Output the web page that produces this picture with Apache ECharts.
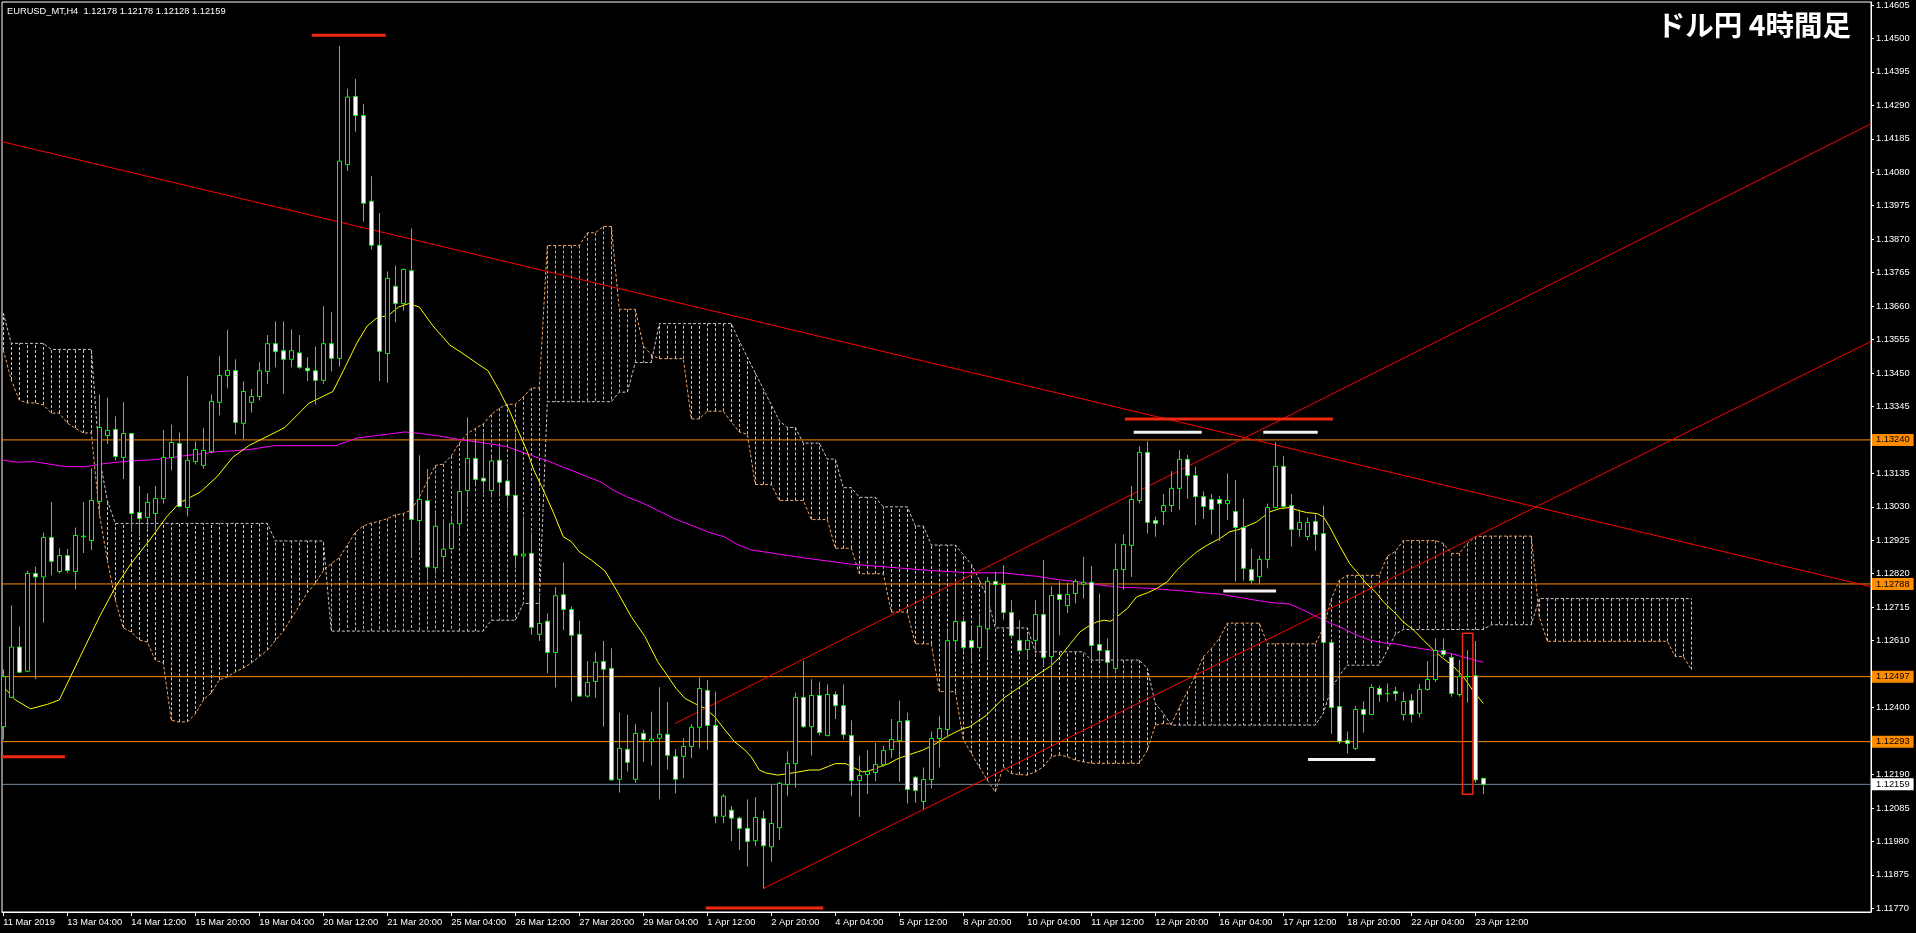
<!DOCTYPE html>
<html><head><meta charset="utf-8">
<script src="https://cdn.jsdelivr.net/npm/echarts@6/dist/echarts.min.js"></script>
<style>html,body{margin:0;padding:0;background:#000;}#c{width:1916px;height:933px;}</style>
</head><body><div id="c"></div>
<script>
// ---------- DATA ----------
const symbolTitle = 'EURUSD_MT,H4';
const chartTitle = 'ドル円 4時間足';
const xTickIdx = [0,8,16,24,32,40,48,56,64,72,80,88,96,104,112,120,128,136,144,152,160,168,176,184];
const xTickLabels = ['11 Mar 2019','13 Mar 04:00','14 Mar 12:00','15 Mar 20:00','19 Mar 04:00','20 Mar 12:00','21 Mar 20:00','25 Mar 04:00','26 Mar 12:00','27 Mar 20:00','29 Mar 04:00','1 Apr 12:00','2 Apr 20:00','4 Apr 04:00','5 Apr 12:00','8 Apr 20:00','10 Apr 04:00','11 Apr 12:00','12 Apr 20:00','16 Apr 04:00','17 Apr 12:00','18 Apr 20:00','22 Apr 04:00','23 Apr 12:00'];
const yTicks = [1.11770,1.11875,1.11980,1.12085,1.12190,1.12295,1.12400,1.12505,1.12610,1.12715,1.12820,1.12925,1.13030,1.13135,1.13240,1.13345,1.13450,1.13555,1.13660,1.13765,1.13870,1.13975,1.14080,1.14185,1.14290,1.14395,1.14500,1.14605];

const open = [1.12340,1.12432,1.12590,1.12514,1.12821,1.12810,1.12934,1.12827,1.12877,1.12827,1.12936,1.12924,1.13047,1.13254,1.13273,1.13185,1.13260,1.13012,1.12997,1.13009,1.13056,1.13185,1.13229,1.13028,1.13172,1.13160,1.13204,1.13358,1.13442,1.13458,1.13292,1.13358,1.13376,1.13455,1.13542,1.13520,1.13493,1.13513,1.13465,1.13457,1.13427,1.13542,1.13496,1.14104,1.14318,1.14258,1.13989,1.13851,1.13511,1.13722,1.13668,1.13771,1.12987,1.13049,1.12839,1.12874,1.12899,1.12977,1.13081,1.13182,1.13120,1.13081,1.13176,1.13111,1.13066,1.12876,1.12884,1.12630,1.12671,1.12573,1.12754,1.12708,1.12630,1.12436,1.12482,1.12545,1.12523,1.12175,1.12269,1.12175,1.12319,1.12294,1.12304,1.12316,1.12247,1.12247,1.12278,1.12338,1.12454,1.12344,1.12059,1.12078,1.12053,1.12021,1.11982,1.12052,1.11963,1.12023,1.12159,1.12224,1.12432,1.12340,1.12438,1.12312,1.12441,1.12406,1.12312,1.12171,1.12190,1.12196,1.12221,1.12268,1.12296,1.12359,1.12181,1.12105,1.12174,1.12303,1.12331,1.12610,1.12670,1.12610,1.12588,1.12647,1.12796,1.12786,1.12698,1.12611,1.12582,1.12611,1.12692,1.12560,1.12755,1.12720,1.12758,1.12787,1.12793,1.12598,1.12579,1.12523,1.12833,1.12909,1.13050,1.13201,1.12987,1.13015,1.13034,1.13088,1.13179,1.13128,1.13062,1.13053,1.13053,1.13040,1.13015,1.12965,1.12833,1.12811,1.12865,1.13028,1.13157,1.13034,1.12959,1.12937,1.12984,1.12946,1.12604,1.12403,1.12297,1.12272,1.12394,1.12378,1.12460,1.12444,1.12451,1.12378,1.12422,1.12382,1.12457,1.12488,1.12579,1.12557,1.12441,1.12498,1.12500,1.12178];
const high = [1.12520,1.12721,1.12655,1.12829,1.12842,1.12949,1.13045,1.12900,1.12898,1.12965,1.13045,1.13151,1.13382,1.13373,1.13314,1.13359,1.13262,1.13095,1.13073,1.13095,1.13271,1.13288,1.13264,1.13440,1.13235,1.13277,1.13383,1.13503,1.13586,1.13493,1.13424,1.13400,1.13484,1.13569,1.13612,1.13612,1.13587,1.13569,1.13500,1.13533,1.13660,1.13641,1.14477,1.14342,1.14373,1.14294,1.14068,1.13952,1.13769,1.13787,1.13778,1.13904,1.13192,1.13149,1.13012,1.12989,1.13003,1.13144,1.13311,1.13241,1.13263,1.13189,1.13219,1.13167,1.13261,1.13000,1.12950,1.12759,1.12696,1.12778,1.12855,1.12717,1.12673,1.12546,1.12575,1.12609,1.12586,1.12384,1.12377,1.12348,1.12330,1.12387,1.12464,1.12417,1.12270,1.12304,1.12348,1.12494,1.12487,1.12450,1.12128,1.12091,1.12058,1.12112,1.12119,1.12076,1.12157,1.12167,1.12263,1.12447,1.12547,1.12489,1.12481,1.12473,1.12451,1.12473,1.12360,1.12249,1.12266,1.12289,1.12280,1.12364,1.12422,1.12384,1.12185,1.12212,1.12325,1.12374,1.12642,1.12790,1.12686,1.12654,1.12695,1.12810,1.12826,1.12847,1.12737,1.12674,1.12633,1.12737,1.12863,1.12781,1.12797,1.12792,1.12803,1.12873,1.12844,1.12758,1.12617,1.12915,1.12943,1.13095,1.13220,1.13236,1.12999,1.13070,1.13142,1.13208,1.13193,1.13156,1.13079,1.13070,1.13064,1.13135,1.13114,1.13056,1.12899,1.12877,1.13040,1.13233,1.13189,1.13070,1.13022,1.12997,1.13006,1.13034,1.12604,1.12538,1.12325,1.12405,1.12420,1.12473,1.12469,1.12476,1.12465,1.12449,1.12442,1.12474,1.12546,1.12617,1.12617,1.12570,1.12549,1.12580,1.12609,1.12178];
const low = [1.12300,1.12429,1.12508,1.12511,1.12489,1.12666,1.12815,1.12821,1.12823,1.12771,1.12885,1.12894,1.12997,1.13227,1.13176,1.13117,1.12951,1.12938,1.12962,1.12956,1.13040,1.13144,1.13028,1.13000,1.13163,1.13150,1.13198,1.13317,1.13402,1.13257,1.13242,1.13326,1.13364,1.13416,1.13468,1.13385,1.13468,1.13463,1.13425,1.13351,1.13416,1.13455,1.13470,1.14084,1.14207,1.13925,1.13838,1.13425,1.13419,1.13609,1.13646,1.12874,1.12922,1.12800,1.12820,1.12836,1.12895,1.12944,1.13030,1.13101,1.13073,1.13062,1.13072,1.13025,1.12837,1.12777,1.12628,1.12609,1.12508,1.12463,1.12643,1.12419,1.12434,1.12431,1.12431,1.12340,1.12170,1.12133,1.12199,1.12164,1.12230,1.12218,1.12112,1.12206,1.12131,1.12178,1.12241,1.12272,1.12267,1.12037,1.12037,1.11981,1.11953,1.11901,1.11965,1.11832,1.11916,1.11984,1.12123,1.12148,1.12336,1.12249,1.12313,1.12310,1.12364,1.12300,1.12122,1.12057,1.12129,1.12169,1.12214,1.12242,1.12167,1.12099,1.12101,1.12080,1.12146,1.12212,1.12306,1.12578,1.12578,1.12547,1.12575,1.12557,1.12659,1.12674,1.12617,1.12570,1.12549,1.12570,1.12528,1.12287,1.12627,1.12697,1.12727,1.12742,1.12549,1.12549,1.12494,1.12509,1.12769,1.12810,1.13041,1.12946,1.12936,1.12973,1.13014,1.13020,1.13055,1.12973,1.12992,1.12943,1.12923,1.12988,1.12795,1.12798,1.12789,1.12787,1.12837,1.13025,1.13022,1.12905,1.12936,1.12925,1.12892,1.12429,1.12317,1.12285,1.12256,1.12267,1.12321,1.12376,1.12418,1.12418,1.12421,1.12359,1.12353,1.12369,1.12453,1.12481,1.12559,1.12434,1.12434,1.12415,1.12164,1.12128];
const close = [1.12497,1.12590,1.12511,1.12821,1.12810,1.12934,1.12859,1.12877,1.12830,1.12940,1.12938,1.13050,1.13279,1.13270,1.13188,1.13260,1.13009,1.12993,1.13044,1.13056,1.13185,1.13232,1.13031,1.13176,1.13210,1.13207,1.13361,1.13442,1.13458,1.13295,1.13392,1.13376,1.13457,1.13542,1.13517,1.13493,1.13520,1.13468,1.13457,1.13427,1.13542,1.13496,1.14115,1.14316,1.14258,1.13983,1.13851,1.13518,1.13747,1.13668,1.13775,1.12990,1.13053,1.12841,1.12969,1.12897,1.12977,1.13078,1.13182,1.13116,1.13111,1.13174,1.13107,1.13066,1.12878,1.12882,1.12652,1.12664,1.12573,1.12751,1.12708,1.12627,1.12436,1.12479,1.12542,1.12520,1.12173,1.12272,1.12228,1.12319,1.12300,1.12301,1.12316,1.12250,1.12175,1.12278,1.12338,1.12460,1.12344,1.12059,1.12122,1.12053,1.12021,1.11980,1.12055,1.11966,1.12036,1.12162,1.12224,1.12432,1.12340,1.12438,1.12322,1.12441,1.12406,1.12315,1.12171,1.12187,1.12199,1.12221,1.12265,1.12300,1.12356,1.12143,1.12140,1.12174,1.12303,1.12334,1.12610,1.12670,1.12588,1.12588,1.12655,1.12796,1.12786,1.12698,1.12626,1.12579,1.12611,1.12692,1.12557,1.12752,1.12739,1.12755,1.12796,1.12793,1.12595,1.12579,1.12542,1.12833,1.12912,1.13053,1.13201,1.12981,1.12978,1.13034,1.13088,1.13179,1.13128,1.13062,1.13031,1.13022,1.13040,1.13050,1.12965,1.12837,1.12799,1.12865,1.13028,1.13157,1.13031,1.12959,1.12981,1.12981,1.12943,1.12604,1.12400,1.12293,1.12287,1.12394,1.12378,1.12463,1.12441,1.12444,1.12444,1.12419,1.12378,1.12457,1.12488,1.12579,1.12567,1.12444,1.12498,1.12497,1.12173,1.12159];

// Ichimoku cloud (Senkou Span A / B), one value per bar incl. 26 bars ahead
const spanA = [1.13522,1.13428,1.13365,1.13356,1.13356,1.13350,1.13324,1.13324,1.13293,1.13277,1.13262,1.13262,1.13010,1.12863,1.12737,1.12650,1.12637,1.12612,1.12606,1.12549,1.12540,1.12360,1.12355,1.12355,1.12380,1.12424,1.12446,1.12487,1.12496,1.12512,1.12524,1.12540,1.12560,1.12580,1.12610,1.12640,1.12680,1.12720,1.12760,1.12790,1.12830,1.12852,1.12870,1.12910,1.12950,1.12970,1.12979,1.12985,1.12993,1.13005,1.13009,1.13020,1.13060,1.13110,1.13160,1.13164,1.13190,1.13230,1.13260,1.13276,1.13290,1.13320,1.13339,1.13352,1.13352,1.13375,1.13403,1.13403,1.13850,1.13850,1.13850,1.13850,1.13850,1.13890,1.13890,1.13910,1.13910,1.13650,1.13650,1.13650,1.13536,1.13507,1.13495,1.13495,1.13495,1.13495,1.13306,1.13306,1.13330,1.13330,1.13330,1.13296,1.13265,1.13258,1.13100,1.13100,1.13100,1.13050,1.13050,1.13050,1.13050,1.12990,1.12990,1.12990,1.12900,1.12900,1.12900,1.12820,1.12820,1.12820,1.12820,1.12700,1.12700,1.12700,1.12600,1.12600,1.12600,1.12450,1.12450,1.12450,1.12300,1.12256,1.12214,1.12172,1.12136,1.12214,1.12193,1.12190,1.12188,1.12198,1.12214,1.12246,1.12251,1.12246,1.12235,1.12230,1.12225,1.12225,1.12225,1.12225,1.12225,1.12225,1.12225,1.12266,1.12345,1.12350,1.12348,1.12400,1.12450,1.12500,1.12560,1.12585,1.12617,1.12665,1.12665,1.12665,1.12665,1.12665,1.12600,1.12600,1.12600,1.12600,1.12600,1.12600,1.12600,1.12650,1.12740,1.12800,1.12815,1.12815,1.12815,1.12815,1.12815,1.12875,1.12890,1.12924,1.12924,1.12924,1.12924,1.12924,1.12915,1.12884,1.12884,1.12915,1.12936,1.12938,1.12938,1.12938,1.12938,1.12938,1.12938,1.12938,1.12685,1.12608,1.12608,1.12608,1.12608,1.12608,1.12608,1.12608,1.12608,1.12608,1.12608,1.12608,1.12608,1.12608,1.12608,1.12608,1.12608,1.12560,1.12560,1.12519];
const spanB = [1.13638,1.13543,1.13543,1.13543,1.13543,1.13543,1.13524,1.13524,1.13524,1.13524,1.13524,1.13524,1.13186,1.13051,1.12978,1.12978,1.12978,1.12978,1.12978,1.12978,1.12978,1.12978,1.12978,1.12978,1.12978,1.12978,1.12978,1.12978,1.12978,1.12978,1.12978,1.12978,1.12978,1.12978,1.12923,1.12923,1.12923,1.12923,1.12923,1.12923,1.12923,1.12640,1.12640,1.12640,1.12640,1.12640,1.12640,1.12640,1.12640,1.12640,1.12640,1.12640,1.12640,1.12640,1.12640,1.12640,1.12640,1.12640,1.12640,1.12640,1.12640,1.12674,1.12674,1.12674,1.12674,1.12727,1.12727,1.12727,1.13360,1.13360,1.13360,1.13360,1.13360,1.13360,1.13360,1.13360,1.13360,1.13390,1.13390,1.13483,1.13483,1.13483,1.13605,1.13605,1.13605,1.13605,1.13605,1.13605,1.13605,1.13605,1.13605,1.13605,1.13550,1.13500,1.13450,1.13400,1.13350,1.13300,1.13279,1.13279,1.13230,1.13230,1.13230,1.13180,1.13180,1.13090,1.13090,1.13060,1.13060,1.13060,1.13030,1.13030,1.13030,1.13030,1.12970,1.12970,1.12910,1.12910,1.12910,1.12910,1.12880,1.12850,1.12800,1.12745,1.12650,1.12650,1.12650,1.12650,1.12650,1.12575,1.12575,1.12575,1.12575,1.12575,1.12575,1.12575,1.12549,1.12549,1.12549,1.12549,1.12549,1.12549,1.12549,1.12523,1.12413,1.12382,1.12345,1.12345,1.12345,1.12345,1.12345,1.12345,1.12345,1.12345,1.12345,1.12345,1.12345,1.12345,1.12345,1.12345,1.12345,1.12345,1.12345,1.12345,1.12345,1.12382,1.12460,1.12500,1.12533,1.12533,1.12533,1.12533,1.12533,1.12580,1.12630,1.12645,1.12645,1.12645,1.12645,1.12645,1.12645,1.12645,1.12645,1.12645,1.12645,1.12645,1.12660,1.12660,1.12660,1.12660,1.12660,1.12660,1.12742,1.12742,1.12742,1.12742,1.12742,1.12742,1.12742,1.12742,1.12742,1.12742,1.12742,1.12742,1.12742,1.12742,1.12742,1.12742,1.12742,1.12742,1.12742,1.12742];

// moving averages: [bar, price]
const maYellow = [[0,1.12466],[1.5,1.12424],[3.4,1.12396],[5.5,1.12410],[7,1.12424],[10,1.12580],[12,1.12684],[14,1.12778],[16,1.12853],[18.3,1.12926],[20.4,1.12998],[22,1.13042],[24.6,1.13076],[26.7,1.13124],[28.7,1.13186],[30.8,1.13224],[32.2,1.13241],[35.2,1.13279],[38.2,1.13355],[41.2,1.13392],[42.5,1.13457],[44.2,1.13544],[45.5,1.13598],[46.8,1.13625],[48.1,1.13630],[49.4,1.13657],[50.7,1.13668],[52,1.13657],[53.7,1.13598],[55.8,1.13538],[57.1,1.13517],[59.3,1.13479],[60.6,1.13457],[62.1,1.13390],[63.3,1.13330],[64.5,1.13260],[65.5,1.13203],[66.3,1.13146],[67.5,1.13083],[68.8,1.13010],[70,1.12936],[71,1.12921],[72,1.12889],[73.5,1.12863],[75.2,1.12829],[76.4,1.12779],[78.5,1.12685],[80.2,1.12623],[81.8,1.12544],[83.1,1.12497],[84.1,1.12460],[85.2,1.12429],[86.4,1.12413],[87.7,1.12398],[88.9,1.12372],[90.2,1.12330],[91.4,1.12293],[92.7,1.12267],[93.5,1.12245],[94.5,1.12204],[95.3,1.12195],[96.8,1.12188],[97.6,1.12191],[99,1.12196],[100.7,1.12204],[102,1.12204],[103.2,1.12216],[104,1.12224],[105.3,1.12224],[106.5,1.12209],[107.4,1.12198],[108.2,1.12201],[109.5,1.12214],[110.7,1.12224],[111.6,1.12237],[112.4,1.12245],[113.7,1.12256],[114.9,1.12266],[115.8,1.12277],[116.6,1.12287],[117.9,1.12308],[119.1,1.12324],[120,1.12334],[120.8,1.12340],[122.9,1.12376],[125,1.12429],[127.1,1.12465],[129.2,1.12502],[130.9,1.12530],[131.9,1.12554],[133.4,1.12601],[134.6,1.12638],[135.5,1.12653],[136.7,1.12669],[137.6,1.12674],[138.4,1.12671],[139.2,1.12685],[140.5,1.12711],[141.7,1.12748],[143,1.12760],[144.2,1.12774],[145.5,1.12795],[146.7,1.12831],[148,1.12863],[149.2,1.12889],[150.5,1.12910],[152.1,1.12931],[153.3,1.12952],[154.2,1.12957],[155.4,1.12969],[156.7,1.12983],[157.5,1.12999],[158.3,1.13014],[159.6,1.13025],[160.8,1.13028],[161.7,1.13020],[162.9,1.13012],[164.2,1.13009],[165,1.12999],[165.8,1.12967],[167.1,1.12905],[168.3,1.12852],[169.2,1.12826],[170.4,1.12789],[171.7,1.12758],[172.5,1.12732],[173.8,1.12701],[175,1.12669],[176.3,1.12643],[177.5,1.12612],[178.8,1.12580],[180,1.12554],[181.3,1.12528],[182.5,1.12497],[183.8,1.12450],[185,1.12413]];
const maMagenta = [[-0.16,1.13177],[1.7,1.13170],[3.8,1.13172],[5.8,1.13164],[7.9,1.13156],[10.4,1.13156],[12.1,1.13164],[14.2,1.13170],[16.3,1.13175],[18.3,1.13177],[20.4,1.13182],[22.5,1.13190],[24.6,1.13196],[26.7,1.13203],[28.8,1.13206],[30.8,1.13210],[33.9,1.13222],[41.6,1.13222],[44.2,1.13246],[46.8,1.13254],[50.2,1.13265],[51.9,1.13261],[54.5,1.13252],[57.1,1.13241],[59.7,1.13232],[62.9,1.13219],[65,1.13200],[67.1,1.13182],[68.3,1.13172],[70,1.13154],[71.2,1.13143],[72.9,1.13125],[74.6,1.13109],[76.2,1.13083],[77.9,1.13062],[80,1.13041],[81.7,1.13020],[83.8,1.12994],[85.9,1.12973],[88,1.12952],[90.1,1.12936],[91.7,1.12913],[93.4,1.12895],[100,1.12870],[106,1.12850],[112,1.12838],[116,1.12830],[120.8,1.12823],[125,1.12823],[126.6,1.12818],[129.2,1.12812],[131.7,1.12802],[134.2,1.12795],[135.9,1.12789],[137.6,1.12783],[140,1.12777],[141.7,1.12776],[143.4,1.12774],[145.9,1.12769],[148,1.12765],[150,1.12760],[152.1,1.12756],[153.3,1.12751],[155.8,1.12740],[158.3,1.12730],[160.8,1.12725],[162.5,1.12706],[164.2,1.12685],[165.8,1.12666],[167.5,1.12648],[169.2,1.12627],[170.8,1.12612],[172.5,1.12603],[174.2,1.12599],[175.8,1.12591],[177.5,1.12584],[179.2,1.12578],[180.8,1.12570],[182.5,1.12559],[184.2,1.12547],[185,1.12542]];

const levelPrices = [1.13240, 1.12788, 1.12497, 1.12293];
const bidPrice = 1.12159;
const trendDown = [[-0.16,1.14176],[233.46,1.12779]];
const trendUp1 = [[83.96,1.12350],[233.46,1.14232]];
const trendUp2 = [[95,1.11832],[233.46,1.13549]];
const redMarks = [[[38.55,1.14510],[47.8,1.14510]],[[-0.16,1.12246],[7.7,1.12246]],[[87.8,1.11771],[102.5,1.11771]],[[140.2,1.13306],[166.2,1.13306]]];
const whiteMarks = [[[141.3,1.13264],[149.8,1.13264]],[[157.5,1.13264],[164.3,1.13264]],[[152.5,1.12766],[159.1,1.12766]],[[163.1,1.12237],[171.5,1.12237]]];
const boxBars = [182.4, 183.7];
const boxPrices = [1.12633, 1.12128];

// ---------- CHART ----------
const FONT = '"Liberation Sans", Arial, sans-serif';
const SMALL = 9.3;
const X_MIN = -0.1625, X_MAX = 233.4625;
const chart = echarts.init(document.getElementById('c'), null, {renderer:'canvas', width:1916, height:933});
const last = open.length - 1;
const header = symbolTitle + '  ' + [open[last], high[last], low[last], close[last]].map(v => v.toFixed(5)).join(' ');

function seg(pts, color, width, z, dash) {
  return {type:'line', data: pts, symbol:'none', silent:true, z: z, clip:true,
    lineStyle:{color: color, width: width, type: dash || 'solid'}, emphasis:{disabled:true}};
}
function level(v, color, tagBg) {
  return {type:'line', data:[[X_MIN, v],[X_MAX, v]], symbol:'none', silent:true, z:4, clip:false,
    lineStyle:{color: color, width:1}, emphasis:{disabled:true},
    endLabel:{show:true, distance:1, formatter: () => v.toFixed(5), backgroundColor: tagBg, color:'#000000',
      padding:[2,4,1,4], fontSize:SMALL, fontFamily:FONT}};
}

const cloudData = spanA.map((a, i) => [i, a, spanB[i]]);
const series = [];
series.push({
  type:'custom', z:2, silent:true, clip:true, data: cloudData,
  encode:{x:0, y:[1,2]},
  renderItem: function (params, api) {
    const i = api.value(0), a = api.value(1), b = api.value(2);
    const p1 = api.coord([i, a]), p2 = api.coord([i, b]);
    const x = Math.round(p1[0]) + 0.5;
    return {type:'line', shape:{x1:x, y1:p1[1], x2:x, y2:p2[1]},
      style:{stroke: a >= b ? '#F4A460' : '#D8BFD8', lineWidth:1, lineDash:[3,2]}};
  }
});
series.push(seg(spanA.map((v,i)=>[i,v]), '#F4A460', 1, 3, [3,2]));
series.push(seg(spanB.map((v,i)=>[i,v]), '#D8BFD8', 1, 3, [3,2]));
levelPrices.forEach(v => series.push(level(v, '#FF8C00', '#FF8C00')));
series.push(level(bidPrice, '#778899', '#FFFFFF'));
series.push(seg(maMagenta, '#FF00FF', 1, 5));
series.push(seg(maYellow, '#FFFF00', 1, 5));
series.push(seg(trendDown, '#FF0000', 1, 6));
series.push(seg(trendUp1, '#FF0000', 1, 6));
series.push(seg(trendUp2, '#FF0000', 1, 6));
series.push({
  type:'candlestick', z:10, silent:true, barWidth:4,
  data: open.map((o,i) => [i, o, close[i], low[i], high[i]]),
  itemStyle:{color:'#000000', color0:'#FFFFFF', borderColor:'#00FF00', borderColor0:'#00FF00', borderColorDoji:'#00FF00', borderWidth:1}
});
redMarks.forEach(p => series.push(seg(p, '#F0280F', 3, 12)));
whiteMarks.forEach(p => series.push(seg(p, '#F2F2F2', 3, 12)));
series.push(seg([[boxBars[0],boxPrices[0]],[boxBars[1],boxPrices[0]],[boxBars[1],boxPrices[1]],[boxBars[0],boxPrices[1]],[boxBars[0],boxPrices[0]]], '#F0280F', 1.5, 12));

chart.setOption({
  backgroundColor:'#000000',
  animation:false,
  grid:{left:2, right:45, top:2, bottom:21, show:true, borderColor:'#FFFFFF', borderWidth:1, backgroundColor:'transparent', containLabel:false, outerBoundsMode:'none'},
  xAxis:{type:'value', min:X_MIN, max:X_MAX,
    axisLine:{show:true, onZero:false, lineStyle:{color:'#FFFFFF'}},
    axisTick:{show:true, customValues:xTickIdx, length:4, lineStyle:{color:'#FFFFFF'}},
    axisLabel:{show:true, customValues:xTickIdx, formatter: v => xTickLabels[xTickIdx.indexOf(Math.round(v))] || '', color:'#FFFFFF', fontSize:SMALL, fontFamily:FONT, align:'left', margin:6},
    splitLine:{show:false}},
  yAxis:{type:'value', position:'right', min:1.117584, max:1.146144, scale:true,
    axisLine:{show:true, onZero:false, lineStyle:{color:'#FFFFFF'}},
    axisTick:{show:true, customValues:yTicks, length:3, lineStyle:{color:'#FFFFFF'}},
    axisLabel:{show:true, customValues:yTicks, formatter: v => v.toFixed(5), color:'#FFFFFF', fontSize:SMALL, fontFamily:FONT, margin:5},
    splitLine:{show:false}},
  graphic:[
    {type:'text', x:7, y:11, silent:true, style:{text:header, fill:'#FFFFFF', font: SMALL + 'px ' + FONT, verticalAlign:'middle'}},
    {type:'text', x:1851, y:25, silent:true, style:{text:chartTitle, fill:'#FFFFFF', font:'bold 28.5px "Noto Sans CJK JP"', align:'right', verticalAlign:'middle'}}
  ],
  series: series
});
</script>
</body></html>
